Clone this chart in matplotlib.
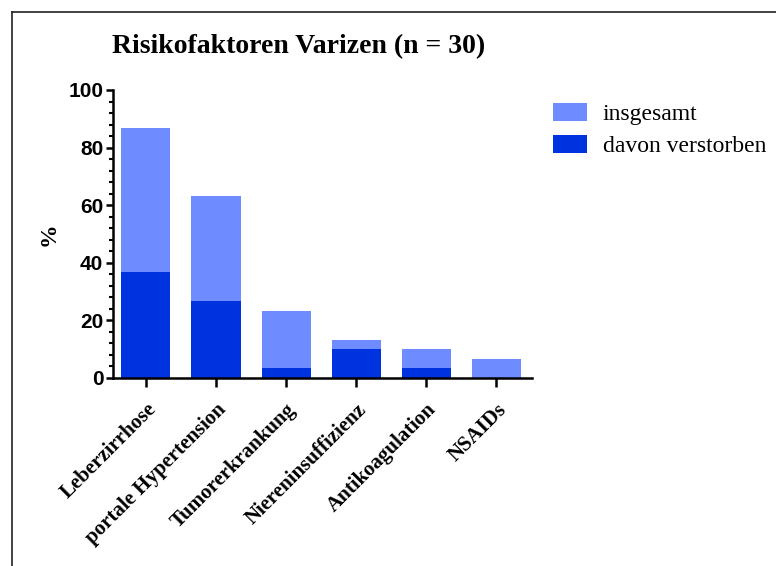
# Risikofaktoren Varizen - Balkendiagramm (insgesamt / davon verstorben)
from matplotlib import pyplot as plt
from matplotlib.lines import Line2D
from matplotlib.ticker import MultipleLocator
import numpy as np

# Daten (Prozent, n = 30)
kategorien = ["Leberzirrhose", "portale Hypertension", "Tumorerkrankung",
              "Niereninsuffizienz", "Antikoagulation", "NSAIDs"]
insgesamt = [86.7, 63.3, 23.3, 13.3, 10.0, 6.7]
verstorben = [36.7, 26.7, 3.3, 10.0, 3.3, 0.0]

hell = "#6e8cff"
dunkel = "#0033e0"

fig = plt.figure(figsize=(7.76, 5.66), dpi=100)
ax = fig.add_axes([0.1456, 0.3322, 0.54, 0.5088])

x = np.arange(len(kategorien))
ax.bar(x, insgesamt, width=0.7, color=hell, label="insgesamt")
ax.bar(x, verstorben, width=0.7, color=dunkel, label="davon verstorben")

ax.set_xlim(-0.47, 5.51)
ax.set_ylim(0, 100)
ax.yaxis.set_major_locator(MultipleLocator(20))
ax.yaxis.set_minor_locator(MultipleLocator(4))

for s in ["top", "right"]:
    ax.spines[s].set_visible(False)
for s in ["left", "bottom"]:
    ax.spines[s].set_linewidth(1.8)

ax.tick_params(axis="y", which="major", direction="out", length=5, width=1.8, pad=2)
ax.tick_params(axis="x", which="major", direction="out", length=6.5, width=1.8, pad=9)
ax.tick_params(axis="y", which="minor", direction="out", length=3.2, width=1.5)

ax.set_xticks(x)
ax.set_xticklabels(kategorien, rotation=45, ha="right", rotation_mode="anchor",
                   family="Liberation Serif", fontweight="bold", fontsize=15)
for lab in ax.get_yticklabels():
    lab.set_family("Liberation Sans")
    lab.set_fontweight("bold")
    lab.set_fontsize(15)

ax.set_ylabel("%", family="Liberation Serif", fontweight="bold", fontsize=17, labelpad=6)

fig.text(0.385, 0.917, "Risikofaktoren Varizen (n = 30)", ha="center", va="center",
         family="Liberation Serif", fontweight="bold", fontsize=20)

fig.legend(loc="upper left", bbox_to_anchor=(0.7126, 0.818), frameon=False,
           borderpad=0, borderaxespad=0,
           prop={"family": "Liberation Serif", "size": 17},
           handlelength=1.45, handleheight=0.8, handletextpad=0.65, labelspacing=0.4)

# Rahmen oben und links
fig.add_artist(Line2D([12 / 776, 1], [1 - 12 / 566, 1 - 12 / 566], color="#222222", lw=1.2))
fig.add_artist(Line2D([12 / 776, 12 / 776], [0, 1 - 12 / 566], color="#222222", lw=1.2))

plt.savefig("out.png", dpi=100)
